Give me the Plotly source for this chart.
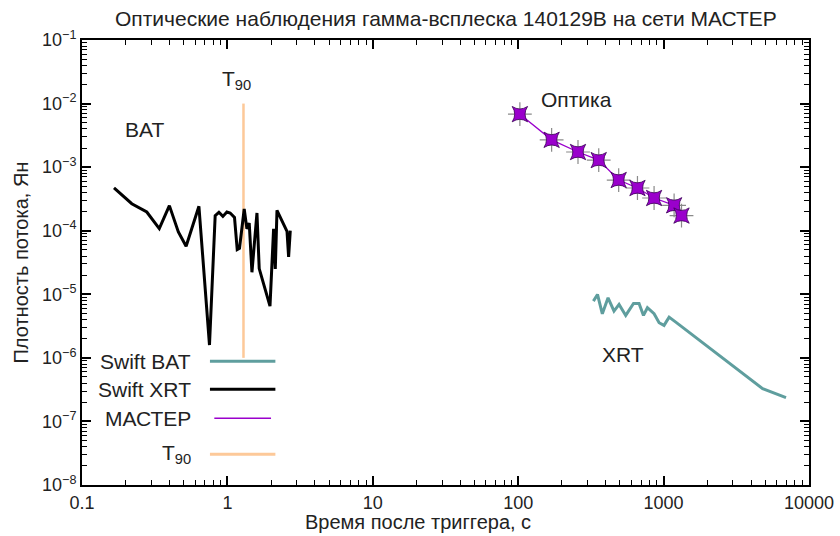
import plotly.graph_objects as go

# ---- data ----
bat_t = [0.166, 0.220, 0.279, 0.340, 0.399, 0.460, 0.520, 0.637, 0.753, 0.824, 0.874, 0.931,
         0.992, 1.045, 1.119, 1.168, 1.211, 1.305, 1.362, 1.413, 1.475, 1.597, 1.655, 1.963,
         2.078, 2.135, 2.193, 2.570, 2.636, 2.707]
bat_f = [4.70e-4, 2.66e-4, 1.97e-4, 1.08e-4, 2.48e-4, 9.57e-5, 5.69e-5, 2.42e-4, 1.59e-6, 1.73e-4,
         1.95e-4, 1.68e-4, 1.97e-4, 1.90e-4, 1.62e-4, 5.05e-5, 5.30e-5, 2.20e-4, 1.07e-4, 1.32e-4,
         2.22e-5, 1.90e-4, 2.54e-5, 6.50e-6, 1.07e-4, 2.51e-5, 2.09e-4, 9.80e-5, 3.88e-5, 1.00e-4]

xrt_t = [329, 351, 379, 415, 456, 494, 549, 621, 678, 727, 774, 860, 931, 1007, 1091, 1213, 4800, 6950]
xrt_f = [7.80e-6, 9.93e-6, 4.94e-6, 8.81e-6, 5.43e-6, 6.92e-6, 4.65e-6, 7.18e-6, 7.18e-6, 4.65e-6,
         6.14e-6, 4.94e-6, 3.57e-6, 3.24e-6, 4.37e-6, 3.65e-6, 3.28e-7, 2.37e-7]

master_t = [102.7, 169.8, 257.8, 358, 491, 661, 860, 1181, 1328]
master_f = [6.82e-3, 2.69e-3, 1.73e-3, 1.29e-3, 6.27e-4, 4.70e-4, 3.27e-4, 2.51e-4, 1.73e-4]

t90_t = [1.29, 1.29]
t90_f = [1e-6, 1e-2]

x_ticks = [0.1, 1, 10, 100, 1000, 10000]
x_ticklabels = ["0.1", "1", "10", "100", "1000", "10000"]
y_ticks = [1e-1, 1e-2, 1e-3, 1e-4, 1e-5, 1e-6, 1e-7, 1e-8]
y_ticklabels = ["10<sup>−1</sup>", "10<sup>−2</sup>", "10<sup>−3</sup>", "10<sup>−4</sup>",
                "10<sup>−5</sup>", "10<sup>−6</sup>", "10<sup>−7</sup>", "10<sup>−8</sup>"]

legend_names = ["Swift BAT", "Swift XRT", "МАСТЕР", "T<sub>90</sub>"]

TEAL = "#5f9e9e"
PURPLE = "#9a00cc"
PEACH = "#fdc999"
FONT = "Liberation Sans, Arial, sans-serif"
TXT = "#222222"

fig = go.Figure()
fig.add_trace(go.Scatter(x=t90_t, y=t90_f, mode="lines", line=dict(color=PEACH, width=2.5), showlegend=False))
fig.add_trace(go.Scatter(x=bat_t, y=bat_f, mode="lines", line=dict(color="black", width=3), showlegend=False))
fig.add_trace(go.Scatter(x=xrt_t, y=xrt_f, mode="lines", line=dict(color=TEAL, width=3), showlegend=False))
fig.add_trace(go.Scatter(x=master_t, y=master_f, mode="lines", line=dict(color=PURPLE, width=1.3), showlegend=False))
fig.add_trace(go.Scatter(x=master_t, y=master_f, mode="markers",
                         marker=dict(symbol="cross-thin-open", size=17, color="#8a8a8a",
                                     line=dict(color="#8a8a8a", width=1.2)),
                         showlegend=False))
fig.add_trace(go.Scatter(x=master_t, y=master_f, mode="markers",
                         marker=dict(symbol="star-square", size=14, color=PURPLE, line=dict(color="#3a0055", width=0.8)),
                         showlegend=False))

minor_x = [k * 10 ** d for d in range(-1, 4) for k in range(2, 10)]
minor_y = [k * 10 ** d for d in range(-8, -1) for k in range(2, 10)]

axis_common = dict(showline=True, linecolor="black", linewidth=2, mirror="ticks", ticks="inside",
                   ticklen=9, tickwidth=1.5, tickcolor="black", showgrid=False, zeroline=False,
                   automargin=False, tickfont=dict(family=FONT, size=18, color=TXT))

fig.update_xaxes(type="log", range=[-1, 4], tickvals=x_ticks, ticktext=x_ticklabels,
                 minor=dict(tickvals=minor_x, ticks="inside", ticklen=5, tickwidth=1.2, tickcolor="black", showgrid=False),
                 **axis_common)
fig.update_yaxes(type="log", range=[-8, -1], tickvals=y_ticks, ticktext=y_ticklabels,
                 minor=dict(tickvals=minor_y, ticks="inside", ticklen=5, tickwidth=1.2, tickcolor="black", showgrid=False),
                 **axis_common)

annotations = [
    dict(x=0.5, y=1.0, xref="paper", yref="paper", yshift=22,
         text="Оптические наблюдения гамма-всплеска 140129B на сети МАСТЕР",
         showarrow=False, font=dict(family=FONT, size=21, color=TXT), xanchor="center", yanchor="middle"),
    dict(x=0.4617, y=0, xref="paper", yref="paper", yshift=-37, text="Время после триггера, с",
         showarrow=False, font=dict(family=FONT, size=20, color=TXT), xanchor="center", yanchor="middle"),
    dict(x=0, y=0.5, xref="paper", yref="paper", xshift=-62, text="Плотность потока, Ян", textangle=-90,
         showarrow=False, font=dict(family=FONT, size=20, color=TXT), xanchor="center", yanchor="middle"),
    dict(x=-0.57, y=-2.4, xref="x", yref="y", text="BAT", showarrow=False, font=dict(family=FONT, size=21, color=TXT)),
    dict(x=2.40, y=-1.93, xref="x", yref="y", text="Оптика", showarrow=False, font=dict(family=FONT, size=21, color=TXT)),
    dict(x=2.72, y=-5.945, xref="x", yref="y", text="XRT", showarrow=False, font=dict(family=FONT, size=21, color=TXT)),
    dict(x=0.06, y=-1.63, xref="x", yref="y", text="T<sub>90</sub>", showarrow=False, font=dict(family=FONT, size=21, color=TXT)),
]

# manual legend (text right-aligned, line sample on right)
leg_y = [-6.055, -6.495, -6.95, -7.515]
leg_styles = [dict(color=TEAL, width=3), dict(color="black", width=3), dict(color=PURPLE, width=1.5), dict(color=PEACH, width=3)]
leg_x0 = [-0.12, -0.12, -0.09, -0.12]
leg_x1 = [0.33, 0.33, 0.30, 0.33]
shapes = []
for name, ly, st, x0, x1 in zip(legend_names, leg_y, leg_styles, leg_x0, leg_x1):
    annotations.append(dict(x=-0.24, y=ly, xref="x", yref="y", text=name, showarrow=False, xanchor="right",
                            font=dict(family=FONT, size=21, color=TXT)))
    shapes.append(dict(type="line", xref="x", yref="y", x0=10 ** x0, x1=10 ** x1, y0=10 ** ly, y1=10 ** ly, line=st))

fig.update_layout(width=840, height=536, margin=dict(l=82, r=31, t=40, b=51),
                  plot_bgcolor="white", paper_bgcolor="white",
                  annotations=annotations, shapes=shapes, showlegend=False)

fig.write_html("out.html")
